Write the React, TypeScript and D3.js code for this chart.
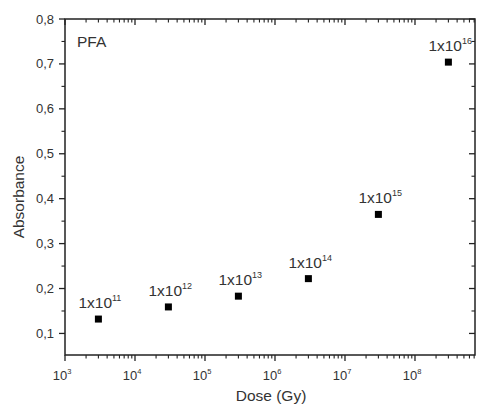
import React from "react";
import * as d3 from "d3";

const doses = [3e3, 3e4, 3e5, 3e6, 3e7, 3e8];
const absorbance = [0.132, 0.159, 0.183, 0.222, 0.365, 0.704];
const fluenceExponents = ["11", "12", "13", "14", "15", "16"];
const xTickExponents = [3, 4, 5, 6, 7, 8];
const yTicks = [0.1, 0.2, 0.3, 0.4, 0.5, 0.6, 0.7, 0.8];

const W = 479;
const H = 408;
const margin = { left: 65, right: 4, top: 19, bottom: 53 };
const FONT = "Liberation Sans, Arial, sans-serif";
const TXT = "#333";
const X_MAX = 7.2e8;

export default function App() {
  const x = d3.scaleLog().domain([1e3, X_MAX]).range([margin.left, W - margin.right]);
  const y = d3.scaleLinear().domain([0.052, 0.8]).range([H - margin.bottom, margin.top]);
  const x0 = margin.left, x1 = W - margin.right, y0 = H - margin.bottom, y1 = margin.top;

  const minorX: number[] = [];
  for (let e = 3; e <= 8; e++) {
    for (let m = 2; m <= 9; m++) {
      const v = m * Math.pow(10, e);
      if (v <= X_MAX) minorX.push(v);
    }
  }
  const minorY: number[] = [];
  for (let v = 0.15; v < 0.8; v += 0.1) minorY.push(+v.toFixed(2));

  return (
    <svg width={W} height={H} style={{ position: "absolute", left: 0, top: 0, background: "#fff" }}>
      <rect x={0} y={0} width={W} height={H} fill="#fff" />
      <rect x={x0} y={y1} width={x1 - x0} height={y0 - y1} fill="none" stroke="#222" strokeWidth={1.5} />
      {xTickExponents.map((e) => {
        const px = x(Math.pow(10, e));
        return (
          <g key={"xt" + e}>
            <line x1={px} x2={px} y1={y0} y2={y0 + 6} stroke="#222" strokeWidth={1.3} />
            <line x1={px} x2={px} y1={y1} y2={y1 + 6} stroke="#222" strokeWidth={1.3} />
            <text x={px - 3} y={y0 + 25} textAnchor="middle" fontFamily={FONT} fontSize={13} fill={TXT}>
              10
              <tspan dy={-6} fontSize={7.5}>{e}</tspan>
            </text>
          </g>
        );
      })}
      {minorX.map((v, i) => {
        const px = x(v);
        return (
          <g key={"xm" + i}>
            <line x1={px} x2={px} y1={y0} y2={y0 + 3.5} stroke="#222" strokeWidth={1.1} />
            <line x1={px} x2={px} y1={y1} y2={y1 + 3.5} stroke="#222" strokeWidth={1.1} />
          </g>
        );
      })}
      {yTicks.map((v) => {
        const py = y(v);
        return (
          <g key={"yt" + v}>
            <line x1={x0 - 6} x2={x0} y1={py} y2={py} stroke="#222" strokeWidth={1.3} />
            <line x1={x1 - 6} x2={x1} y1={py} y2={py} stroke="#222" strokeWidth={1.3} />
            <text x={x0 - 11} y={py + 4.5} textAnchor="end" fontFamily={FONT} fontSize={13} fill={TXT}>
              {v.toFixed(1).replace(".", ",")}
            </text>
          </g>
        );
      })}
      {minorY.map((v) => {
        const py = y(v);
        return (
          <g key={"ym" + v}>
            <line x1={x0 - 3.5} x2={x0} y1={py} y2={py} stroke="#222" strokeWidth={1.1} />
            <line x1={x1 - 3.5} x2={x1} y1={py} y2={py} stroke="#222" strokeWidth={1.1} />
          </g>
        );
      })}
      {doses.map((d, i) => {
        const px = x(d), py = y(absorbance[i]);
        return (
          <g key={"p" + i}>
            <rect x={px - 3.5} y={py - 3.5} width={7} height={7} fill="#000" />
            <text x={px - 20} y={py - 11} fontFamily={FONT} fontSize={15.5} fill={TXT}>
              1x10
              <tspan dy={-7} fontSize={9}>{fluenceExponents[i]}</tspan>
            </text>
          </g>
        );
      })}
      <text x={77} y={47} fontFamily={FONT} fontSize={15.5} fill={TXT}>PFA</text>
      <text
        transform={`translate(24, ${(y0 + y1) / 2 + 10}) rotate(-90)`}
        textAnchor="middle"
        fontFamily={FONT}
        fontSize={15.5}
        fill={TXT}
      >
        Absorbance
      </text>
      <text x={271} y={401} textAnchor="middle" fontFamily={FONT} fontSize={15.5} fill={TXT}>
        Dose (Gy)
      </text>
    </svg>
  );
}
